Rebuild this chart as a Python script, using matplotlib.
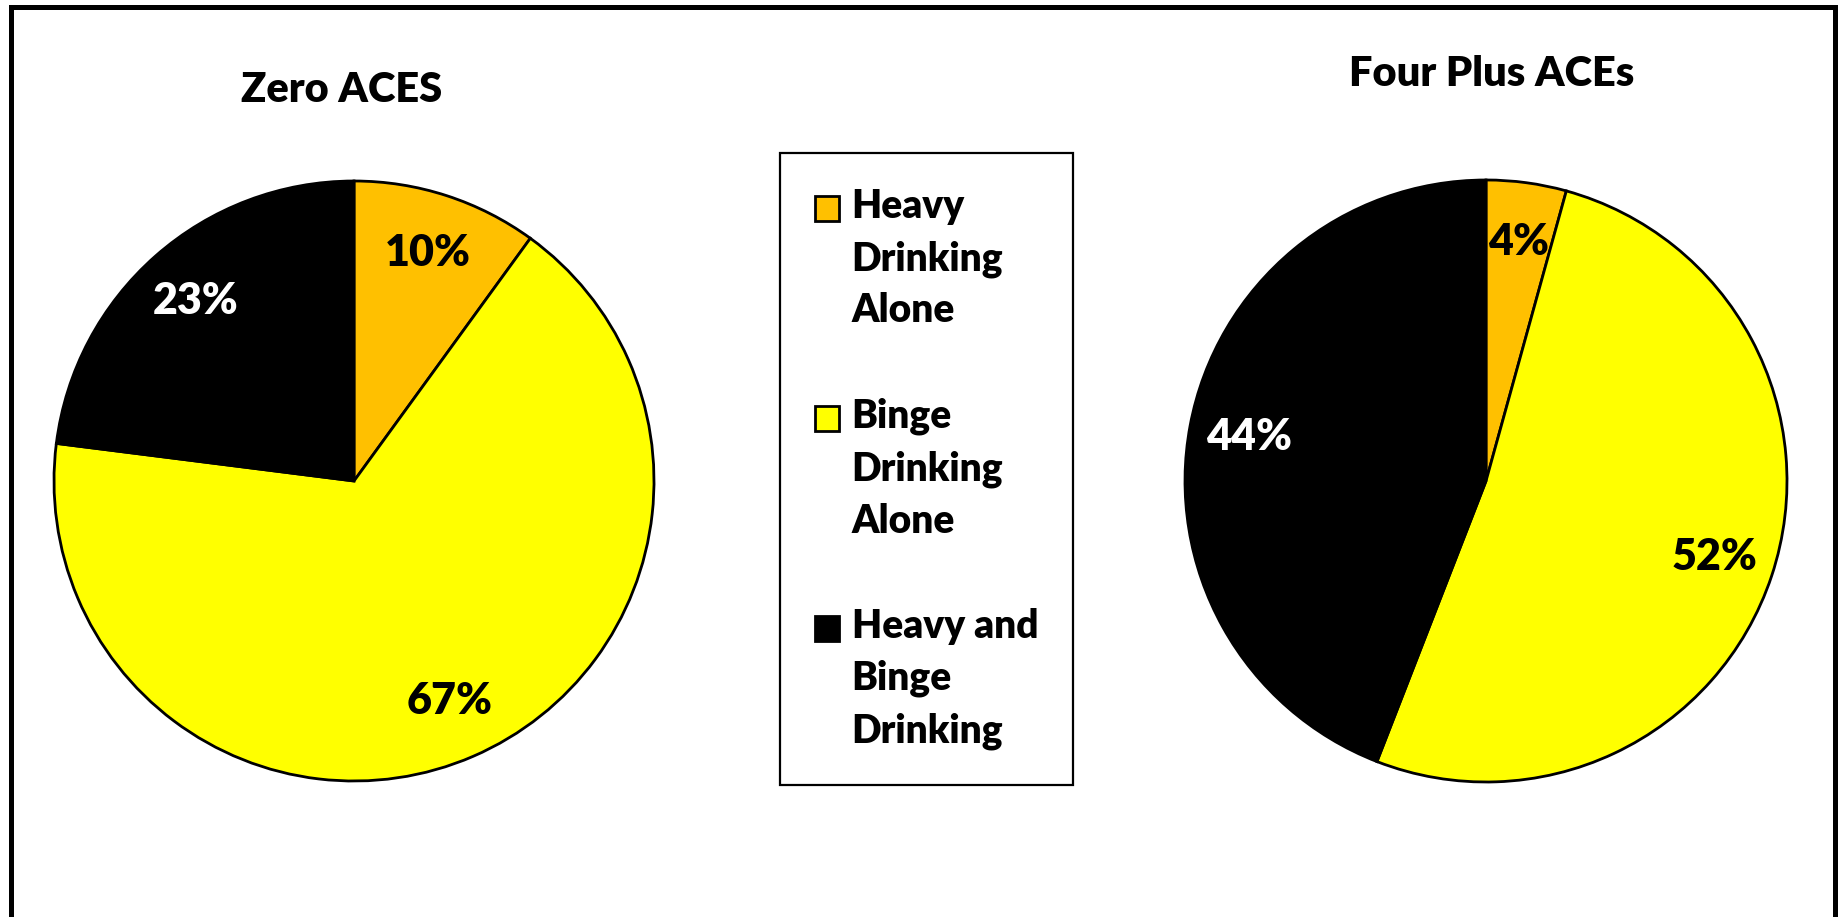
import matplotlib
matplotlib.use("Agg")
import matplotlib.pyplot as plt
from matplotlib.patches import Rectangle
from matplotlib.legend_handler import HandlerPatch

plt.rcParams["font.family"] = ["Lato", "DejaVu Sans"]
plt.rcParams["font.weight"] = "heavy"

categories = ["Heavy\nDrinking\nAlone", "Binge\nDrinking\nAlone", "Heavy and\nBinge\nDrinking"]
colors = ["#FFC000", "#FFFF00", "#000000"]
pct_colors = ["black", "black", "white"]
titles = ["Zero ACES", "Four Plus ACEs"]
zero_aces = [10, 67, 23]
four_plus_aces = [4.3, 51.6, 44.1]

W, H = 1839, 917
fig = plt.figure(figsize=(W / 100, H / 100), dpi=100)

# outer frame (bottom edge falls outside the picture)
fig.patches.append(Rectangle((10.5 / W, -0.02), (1835 - 10.5) / W, 1.02 - 7 / H,
                             transform=fig.transFigure, fill=False,
                             edgecolor="black", linewidth=3.6))


def draw_pie(cx, cy, r, values, title, tx, ty):
    ax = fig.add_axes([(cx - r) / W, (H - cy - r) / H, 2 * r / W, 2 * r / H])
    wedges, _, autotexts = ax.pie(
        values, colors=colors, startangle=90, counterclock=False,
        autopct="%.0f%%", pctdistance=0.8,
        wedgeprops=dict(edgecolor="black", linewidth=2, clip_on=False),
        textprops=dict(fontsize=31, fontweight="heavy"))
    for t, c in zip(autotexts, pct_colors):
        t.set_color(c)
    ax.set_xlim(-1, 1)
    ax.set_ylim(-1, 1)
    fig.text(tx / W, 1 - ty / H, title, ha="center", va="center",
             fontsize=30, fontweight="heavy")
    return wedges


wedges = draw_pie(354, 481, 300, zero_aces, titles[0], 342, 90)
draw_pie(1486, 481, 301, four_plus_aces, titles[1], 1492, 74)


def top_square(legend, orig_handle, xdescent, ydescent, width, height, fontsize):
    return Rectangle((-xdescent, -ydescent + 1.33 * fontsize), width, height)


leg = fig.legend(wedges, categories, loc="upper left",
                 bbox_to_anchor=(780 / W, 0.0, 293 / W, 1 - 153 / H),
                 mode="expand", borderaxespad=0, fontsize=28,
                 handlelength=0.62, handleheight=0.62, handletextpad=0.32,
                 borderpad=0.9, labelspacing=1.75, fancybox=False,
                 edgecolor="black", framealpha=1,
                 handler_map={w: HandlerPatch(patch_func=top_square) for w in wedges})
leg.get_frame().set_linewidth(1.6)
for t in leg.get_texts():
    t.set_linespacing(1.5)

fig.savefig("out.png", dpi=100)
